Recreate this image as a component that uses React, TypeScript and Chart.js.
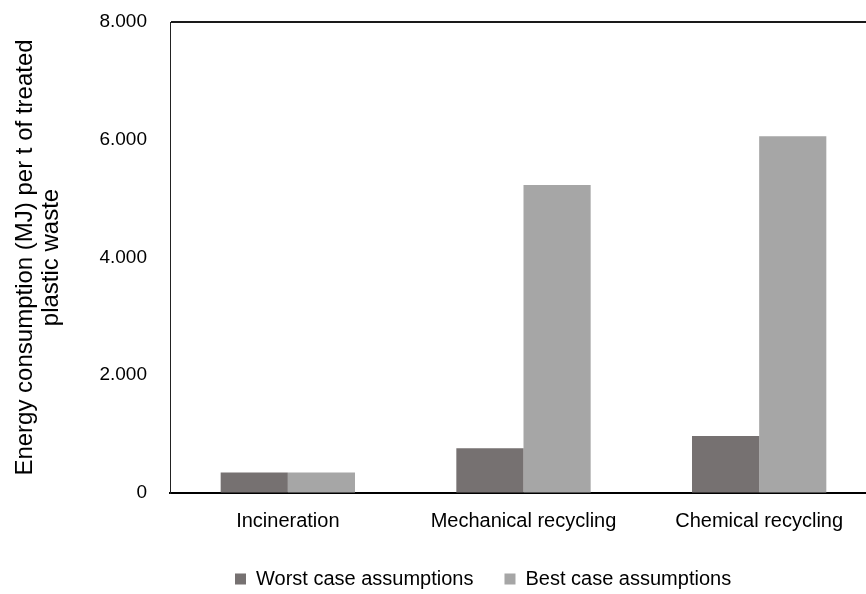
import React, { useEffect, useRef } from 'react';
import { Chart, registerables } from 'chart.js';

Chart.register(...registerables);

const categories = ['Incineration', 'Mechanical recycling', 'Chemical recycling'];
const seriesLabels = ['Worst case assumptions', 'Best case assumptions'];
const worstCase = [350, 760, 970];
const bestCase = [350, 5230, 6060];
const yTicks = [0, 2000, 4000, 6000, 8000];
const yTitle = ['Energy consumption (MJ) per t of treated', 'plastic waste'];

const FONT = '"Liberation Sans", Arial, sans-serif';
const LEGEND_START_X = 235;

const fmt = (v: number) => String(v).replace(/\B(?=(\d{3})+(?!\d))/g, '.');

const legendShift = {
  id: 'legendShift',
  afterLayout(chart: any) {
    const lg = chart.legend;
    if (!lg || !lg.lineWidths) return;
    const p = lg.options.labels.padding;
    const cur = (lg.left + p + lg.right - lg.lineWidths[0]) / 2;
    const dx = LEGEND_START_X - cur;
    lg.left += dx;
    lg.right += dx;
  },
};

export default function App() {
  const ref = useRef<HTMLCanvasElement | null>(null);

  useEffect(() => {
    if (!ref.current) return;
    const chart = new Chart(ref.current, {
      type: 'bar',
      data: {
        labels: categories,
        datasets: [
          { label: seriesLabels[0], data: worstCase, backgroundColor: '#767171', borderWidth: 0 },
          { label: seriesLabels[1], data: bestCase, backgroundColor: '#A6A6A6', borderWidth: 0 },
        ],
      },
      options: {
        animation: false,
        responsive: true,
        maintainAspectRatio: false,
        datasets: { bar: { categoryPercentage: 0.57, barPercentage: 1 } },
        layout: { padding: { left: 0, right: 3, top: 22, bottom: 0 } },
        scales: {
          x: {
            grid: { display: false },
            border: { display: true, color: '#000', width: 2 },
            ticks: { padding: 8, font: { family: FONT, size: 20 }, color: '#000', maxRotation: 0, autoSkip: false },
            afterFit: (s: any) => { s.height = 45; },
          },
          y: {
            min: 0,
            max: 8000,
            afterBuildTicks: (s: any) => { s.ticks = yTicks.map((v) => ({ value: v })); },
            ticks: {
              padding: 23,
              font: { family: FONT, size: 19 },
              color: '#000',
              callback: (v: any) => fmt(Number(v)),
            },
            grid: {
              drawTicks: false,
              color: (ctx: any) => (ctx.tick && ctx.tick.value === 8000 ? '#1a1a1a' : 'rgba(0,0,0,0)'),
              lineWidth: (ctx: any) => (ctx.tick && ctx.tick.value === 8000 ? 2 : 1),
            },
            border: { display: true, color: '#222', width: 1 },
            title: {
              display: true,
              text: yTitle,
              font: { family: FONT, size: 24, lineHeight: 1.08 },
              color: '#000',
              padding: { top: 12, bottom: 0 },
            },
            afterFit: (s: any) => {
              s.width = 170;
              s.paddingTop = 0;
              s.paddingBottom = 0;
            },
          },
        },
        plugins: {
          legend: {
            position: 'bottom',
            labels: { boxWidth: 11, boxHeight: 11, padding: 31, font: { family: FONT, size: 20 }, color: '#000' },
          },
          tooltip: { enabled: false },
        },
      },
      plugins: [legendShift],
    } as any);
    return () => chart.destroy();
  }, []);

  return (
    <div style={{ position: 'fixed', left: 0, top: 0, width: 866, height: 594, overflow: 'hidden', background: '#fff' }}>
      <div style={{ position: 'relative', width: 880, height: 599 }}>
        <canvas ref={ref} />
      </div>
    </div>
  );
}
